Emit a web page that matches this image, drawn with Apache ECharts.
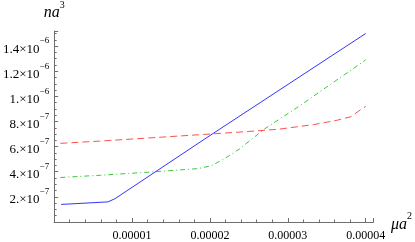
<!DOCTYPE html>
<html>
<head>
<meta charset="utf-8">
<script src="https://cdn.jsdelivr.net/npm/echarts@6/dist/echarts.min.js"></script>
<style>
html,body{margin:0;padding:0;background:#fff;}
#c{width:415px;height:242px;}
</style>
</head>
<body>
<div id="c"></div>
<script>
// ---- data ----
const blueX = [0.9e-6, 6.9e-6, 7.8e-6, 2.0e-5, 4.0e-5];
const blueY = [1.40e-7, 1.60e-7, 1.85e-7, 6.88e-7, 1.50e-6];

const greenX = [0.8e-6, 5.9e-6, 1.22e-5, 1.85e-5, 2.02e-5, 2.19e-5, 2.38e-5, 2.70e-5, 3.12e-5, 4.0e-5];
const greenY = [3.54e-7, 3.72e-7, 3.97e-7, 4.25e-7, 4.48e-7, 5.05e-7, 5.81e-7, 7.40e-7, 9.11e-7, 1.29e-6];

const redX = [0.8e-6, 5.9e-6, 1.22e-5, 1.85e-5, 2.49e-5, 2.89e-5, 3.33e-5, 3.62e-5, 3.81e-5, 3.94e-5, 4.0e-5];
const redY = [6.26e-7, 6.44e-7, 6.69e-7, 6.94e-7, 7.20e-7, 7.39e-7, 7.75e-7, 8.08e-7, 8.38e-7, 8.96e-7, 9.19e-7];

const xTickLabels = {1: '0.00001', 2: '0.00002', 3: '0.00003', 4: '0.00004'};
const yTickMant = {1: '2.', 2: '4.', 3: '6.', 4: '8.', 5: '1.', 6: '1.2', 7: '1.4'};
const yTickExp = {1: '−7', 2: '−7', 3: '−7', 4: '−7', 5: '−6', 6: '−6', 7: '−6'};

const xName = 'μa';
const xNameSup = '2';
const yName = 'na';
const yNameSup = '3';

function zip(a, b) { return a.map((v, i) => [v, b[i]]); }

const serif = 'Liberation Serif';
const axisColor = '#6e6e6e';

const chart = echarts.init(document.getElementById('c'), null, {renderer: 'canvas'});
chart.setOption({
  animation: false,
  backgroundColor: '#fff',
  grid: {left: 53, right: 38, top: 27, bottom: 14, containLabel: false},
  xAxis: {
    type: 'value', min: 0, max: 4.1e-5, interval: 1e-5,
    splitLine: {show: false},
    axisLine: {show: true, lineStyle: {color: axisColor, width: 1}},
    axisTick: {show: true, inside: true, length: 4, lineStyle: {color: axisColor}},
    minorTick: {show: true, splitNumber: 5, length: 2.5, lineStyle: {color: axisColor}},
    axisLabel: {
      show: true, margin: 8, color: '#000', fontFamily: serif, fontSize: 12,
      showMinLabel: false, showMaxLabel: false,
      formatter: function (v) {
        const k = Math.round(v / 1e-5);
        if (Math.abs(v / 1e-5 - k) > 1e-6) return '';
        return xTickLabels[k] || '';
      }
    },
    name: '{a|' + xName + '}{s|' + xNameSup + '}',
    nameLocation: 'end', nameGap: 9,
    nameTextStyle: {
      rich: {
        a: {fontFamily: serif, fontStyle: 'italic', fontSize: 16, color: '#000', verticalAlign: 'bottom', padding: [6, 0, 0, 0]},
        s: {fontFamily: serif, fontSize: 10, color: '#000', verticalAlign: 'top'}
      }
    }
  },
  yAxis: {
    type: 'value', min: 0, max: 1.52e-6, interval: 2e-7,
    splitLine: {show: false},
    axisLine: {show: true, lineStyle: {color: axisColor, width: 1}},
    axisTick: {show: true, inside: true, length: 4, lineStyle: {color: axisColor}},
    minorTick: {show: true, splitNumber: 4, length: 2.5, lineStyle: {color: axisColor}},
    axisLabel: {
      show: true, margin: 5, color: '#000',
      showMinLabel: false, showMaxLabel: false,
      formatter: function (v) {
        const k = Math.round(v / 2e-7);
        if (Math.abs(v / 2e-7 - k) > 1e-6) return '';
        if (!yTickMant[k]) return '';
        return '{a|' + yTickMant[k] + '×10}{s|' + yTickExp[k] + '}';
      },
      rich: {
        a: {fontFamily: serif, fontSize: 13, color: '#000', verticalAlign: 'bottom', padding: [6, 0, 0, 0]},
        s: {fontFamily: serif, fontSize: 9, color: '#000', verticalAlign: 'top'}
      }
    },
    name: '{a|' + yName + '}{s|' + yNameSup + '}',
    nameLocation: 'end', nameGap: 10,
    nameTextStyle: {
      rich: {
        a: {fontFamily: serif, fontStyle: 'italic', fontSize: 16, color: '#000', verticalAlign: 'bottom', padding: [5, 0, 0, 0]},
        s: {fontFamily: serif, fontSize: 10, color: '#000', verticalAlign: 'top'}
      }
    }
  },
  series: [
    {
      type: 'line', data: zip(redX, redY), showSymbol: false, symbol: 'none',
      lineStyle: {color: '#ff5050', width: 1, type: [7, 4]}, z: 2
    },
    {
      type: 'line', data: zip(greenX, greenY), showSymbol: false, symbol: 'none',
      lineStyle: {color: '#3cc83c', width: 1, type: [5, 3, 1, 3]}, z: 3
    },
    {
      type: 'line', data: zip(blueX, blueY), showSymbol: false, symbol: 'none',
      lineStyle: {color: '#3434ff', width: 1}, z: 4
    }
  ]
});
</script>
</body>
</html>
